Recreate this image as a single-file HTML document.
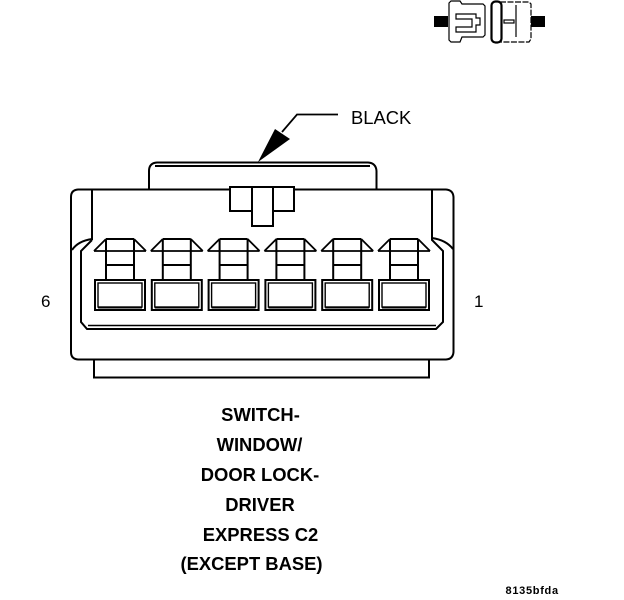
<!DOCTYPE html>
<html>
<head>
<meta charset="utf-8">
<style>
html,body{margin:0;padding:0;background:#fff}
svg{display:block}
text{font-family:"Liberation Sans",Arial,sans-serif;fill:#000}
.b{font-weight:bold;font-size:18.4px;text-anchor:middle}
</style>
</head>
<body>
<svg width="624" height="600" viewBox="0 0 624 600" xmlns="http://www.w3.org/2000/svg">
<defs>
<g id="t" fill="none" stroke="#000">
  <path d="M106 239H134M106 239V279M134 239V279M106 265H134" stroke-width="2"/>
  <path d="M94 251H146M106 239L94 251M134 239L146 251" stroke-width="1.8"/>
  <rect x="95" y="280" width="50" height="30" stroke-width="2"/>
  <rect x="98" y="283" width="44" height="24" stroke-width="1.4"/>
  <path d="M98 307.500H142" stroke-width="2"/>
</g>
</defs>
<!-- top icon -->
<rect x="434" y="16" width="14" height="11" fill="#000"/>
<rect x="531" y="16" width="14" height="11" fill="#000"/>
<g fill="none" stroke="#000" stroke-width="1.2">
  <path d="M449 3L451 1H460L462 4H483L485 6V35L483 37H462L460 42H451L449 40Z"/>
  <path d="M456 14H476V18H480V25H476V32H456V27H472V19H456Z"/>
  <path d="M500 2H529L531 4V39L529 42H500" stroke-dasharray="6 1.500"/>
  <path d="M516 5V37"/>
  <rect x="504" y="20" width="10" height="3"/>
</g>
<rect x="491.500" y="1.500" width="10" height="41" rx="4" fill="none" stroke="#000" stroke-width="2.200"/>
<!-- leader + arrow -->
<path d="M282 132L297 114.500H338" fill="none" stroke="#000" stroke-width="1.800"/>
<polygon points="258,162 275,129 290,139" fill="#000"/>
<text x="351" y="124" font-size="18.400">BLACK</text>
<!-- top tab -->
<path d="M149 190V171Q149 163 157 162.500H368Q376 163 376.500 171V190" fill="none" stroke="#000" stroke-width="2"/>
<path d="M155 166H370" fill="none" stroke="#000" stroke-width="2"/>
<!-- body -->
<path d="M94 360V377.500H429V360" fill="none" stroke="#000" stroke-width="2"/>
<path d="M71 197Q71 190 78 189.500H446Q453 190 453.500 197V352Q453 359 446 359.500H78Q71 359 71 352Z" fill="#fff" stroke="#000" stroke-width="2"/>
<g fill="none" stroke="#000" stroke-width="2">
  <path d="M92 190V240"/>
  <path d="M72 250Q78 241 92 239"/>
  <path d="M92 240L81 251V322L87 329H436L443 322V251L432 240V190"/>
  <path d="M432 238Q446 240 453 249"/>
  <path d="M88 325.500H436" stroke-width="1.600"/>
</g>
<!-- key -->
<rect x="230" y="187" width="64" height="24" fill="#fff" stroke="#000" stroke-width="2"/>
<rect x="252" y="187" width="21" height="39" fill="#fff" stroke="#000" stroke-width="2"/>
<!-- terminals -->
<use href="#t"/>
<use href="#t" x="56.800"/>
<use href="#t" x="113.600"/>
<use href="#t" x="170.400"/>
<use href="#t" x="227.200"/>
<use href="#t" x="284"/>
<!-- labels -->
<text x="41" y="307" font-size="17">6</text>
<text x="474" y="307" font-size="17">1</text>
<text class="b" x="260.500" y="421">SWITCH-</text>
<text class="b" x="259.500" y="451">WINDOW/</text>
<text class="b" x="260" y="481">DOOR LOCK-</text>
<text class="b" x="260" y="511">DRIVER</text>
<text class="b" x="260.500" y="541">EXPRESS C2</text>
<text class="b" x="251.500" y="570">(EXCEPT BASE)</text>
<text x="505.500" y="594" font-size="11" font-weight="bold" letter-spacing="0.700">8135bfda</text>
</svg>
</body>
</html>
